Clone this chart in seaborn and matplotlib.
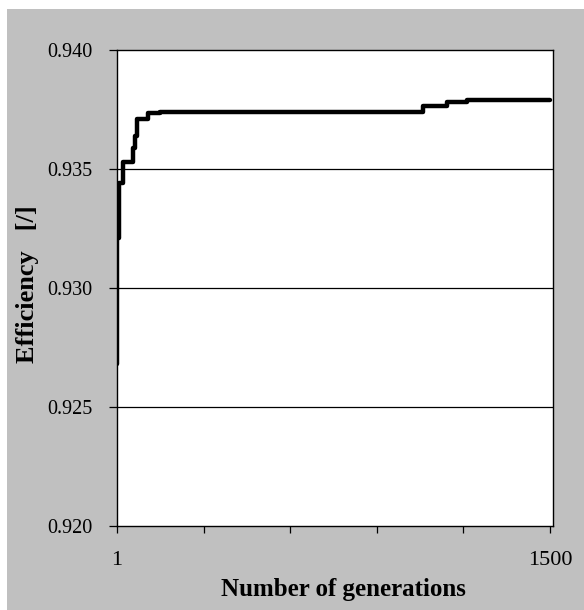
import matplotlib
matplotlib.use("Agg")
import matplotlib.pyplot as plt
from matplotlib.patches import Rectangle
import seaborn as sns
import pandas as pd
import numpy as np

# Best efficiency found so far, recorded at the generations where it improved
generations = [1, 2, 8, 22, 56, 63, 70, 108, 150, 1060, 1143, 1213, 1500]
efficiency = [0.9268, 0.9321, 0.9344, 0.9353, 0.9359, 0.9364, 0.9371,
              0.93735, 0.9374, 0.93765, 0.9378, 0.9379, 0.9379]

y_ticks = [0.920, 0.925, 0.930, 0.935, 0.940]
y_tick_labels = ["0.920", "0.925", "0.930", "0.935", "0.940"]
x_tick_labels = ["1", "", "", "", "", "1500"]

sns.set_theme(style="white")
plt.rcParams["font.family"] = ["Liberation Serif", "DejaVu Serif"]

df = pd.DataFrame({"generation": generations, "efficiency": efficiency})

fig = plt.figure(figsize=(5.84, 6.10), dpi=100, facecolor="white")
backdrop = Rectangle((7 / 584, 0), 1 - 7 / 584, 1 - 9 / 610,
                     transform=fig.transFigure, facecolor="#C0C0C0",
                     edgecolor="none", zorder=-10)
fig.add_artist(backdrop)
ax = fig.add_axes([117 / 584, 1 - 526 / 610, (553 - 117) / 584, (526 - 50) / 610])
ax.set_facecolor("white")

sns.lineplot(data=df, x="generation", y="efficiency", ax=ax, color="black",
             linewidth=3.2, drawstyle="steps-post", estimator=None,
             solid_capstyle="round", zorder=3)

ax.set_xlim(1, 1510)
ax.set_ylim(0.920, 0.940)

ax.set_yticks(y_ticks)
ax.set_yticklabels(y_tick_labels)
ax.set_xticks(np.linspace(1, 1500, 6))
ax.set_xticklabels(x_tick_labels)

for v in y_ticks[1:-1]:
    ax.axhline(v, color="black", linewidth=0.9, zorder=1)

for side in ["left", "right", "top", "bottom"]:
    ax.spines[side].set_visible(True)
    ax.spines[side].set_color("black")
    ax.spines[side].set_linewidth(1.0)

ax.tick_params(axis="both", which="major", direction="out", width=0.9,
               color="black", labelcolor="black", left=True, bottom=True)
ax.tick_params(axis="x", length=4.8, pad=13, labelsize=16)
ax.tick_params(axis="y", length=5.5, pad=12.5, labelsize=14.5)

ax.set_xlabel("Number of generations", fontsize=18, fontweight="bold",
              color="black")
ax.xaxis.set_label_coords(0.519, -0.11)
ax.set_ylabel("Efficiency   [/]", fontsize=19, fontweight="bold",
              color="black")
ax.yaxis.set_label_coords(-0.178, 0.509)

fig.savefig("out.png", dpi=100, facecolor=fig.get_facecolor())
